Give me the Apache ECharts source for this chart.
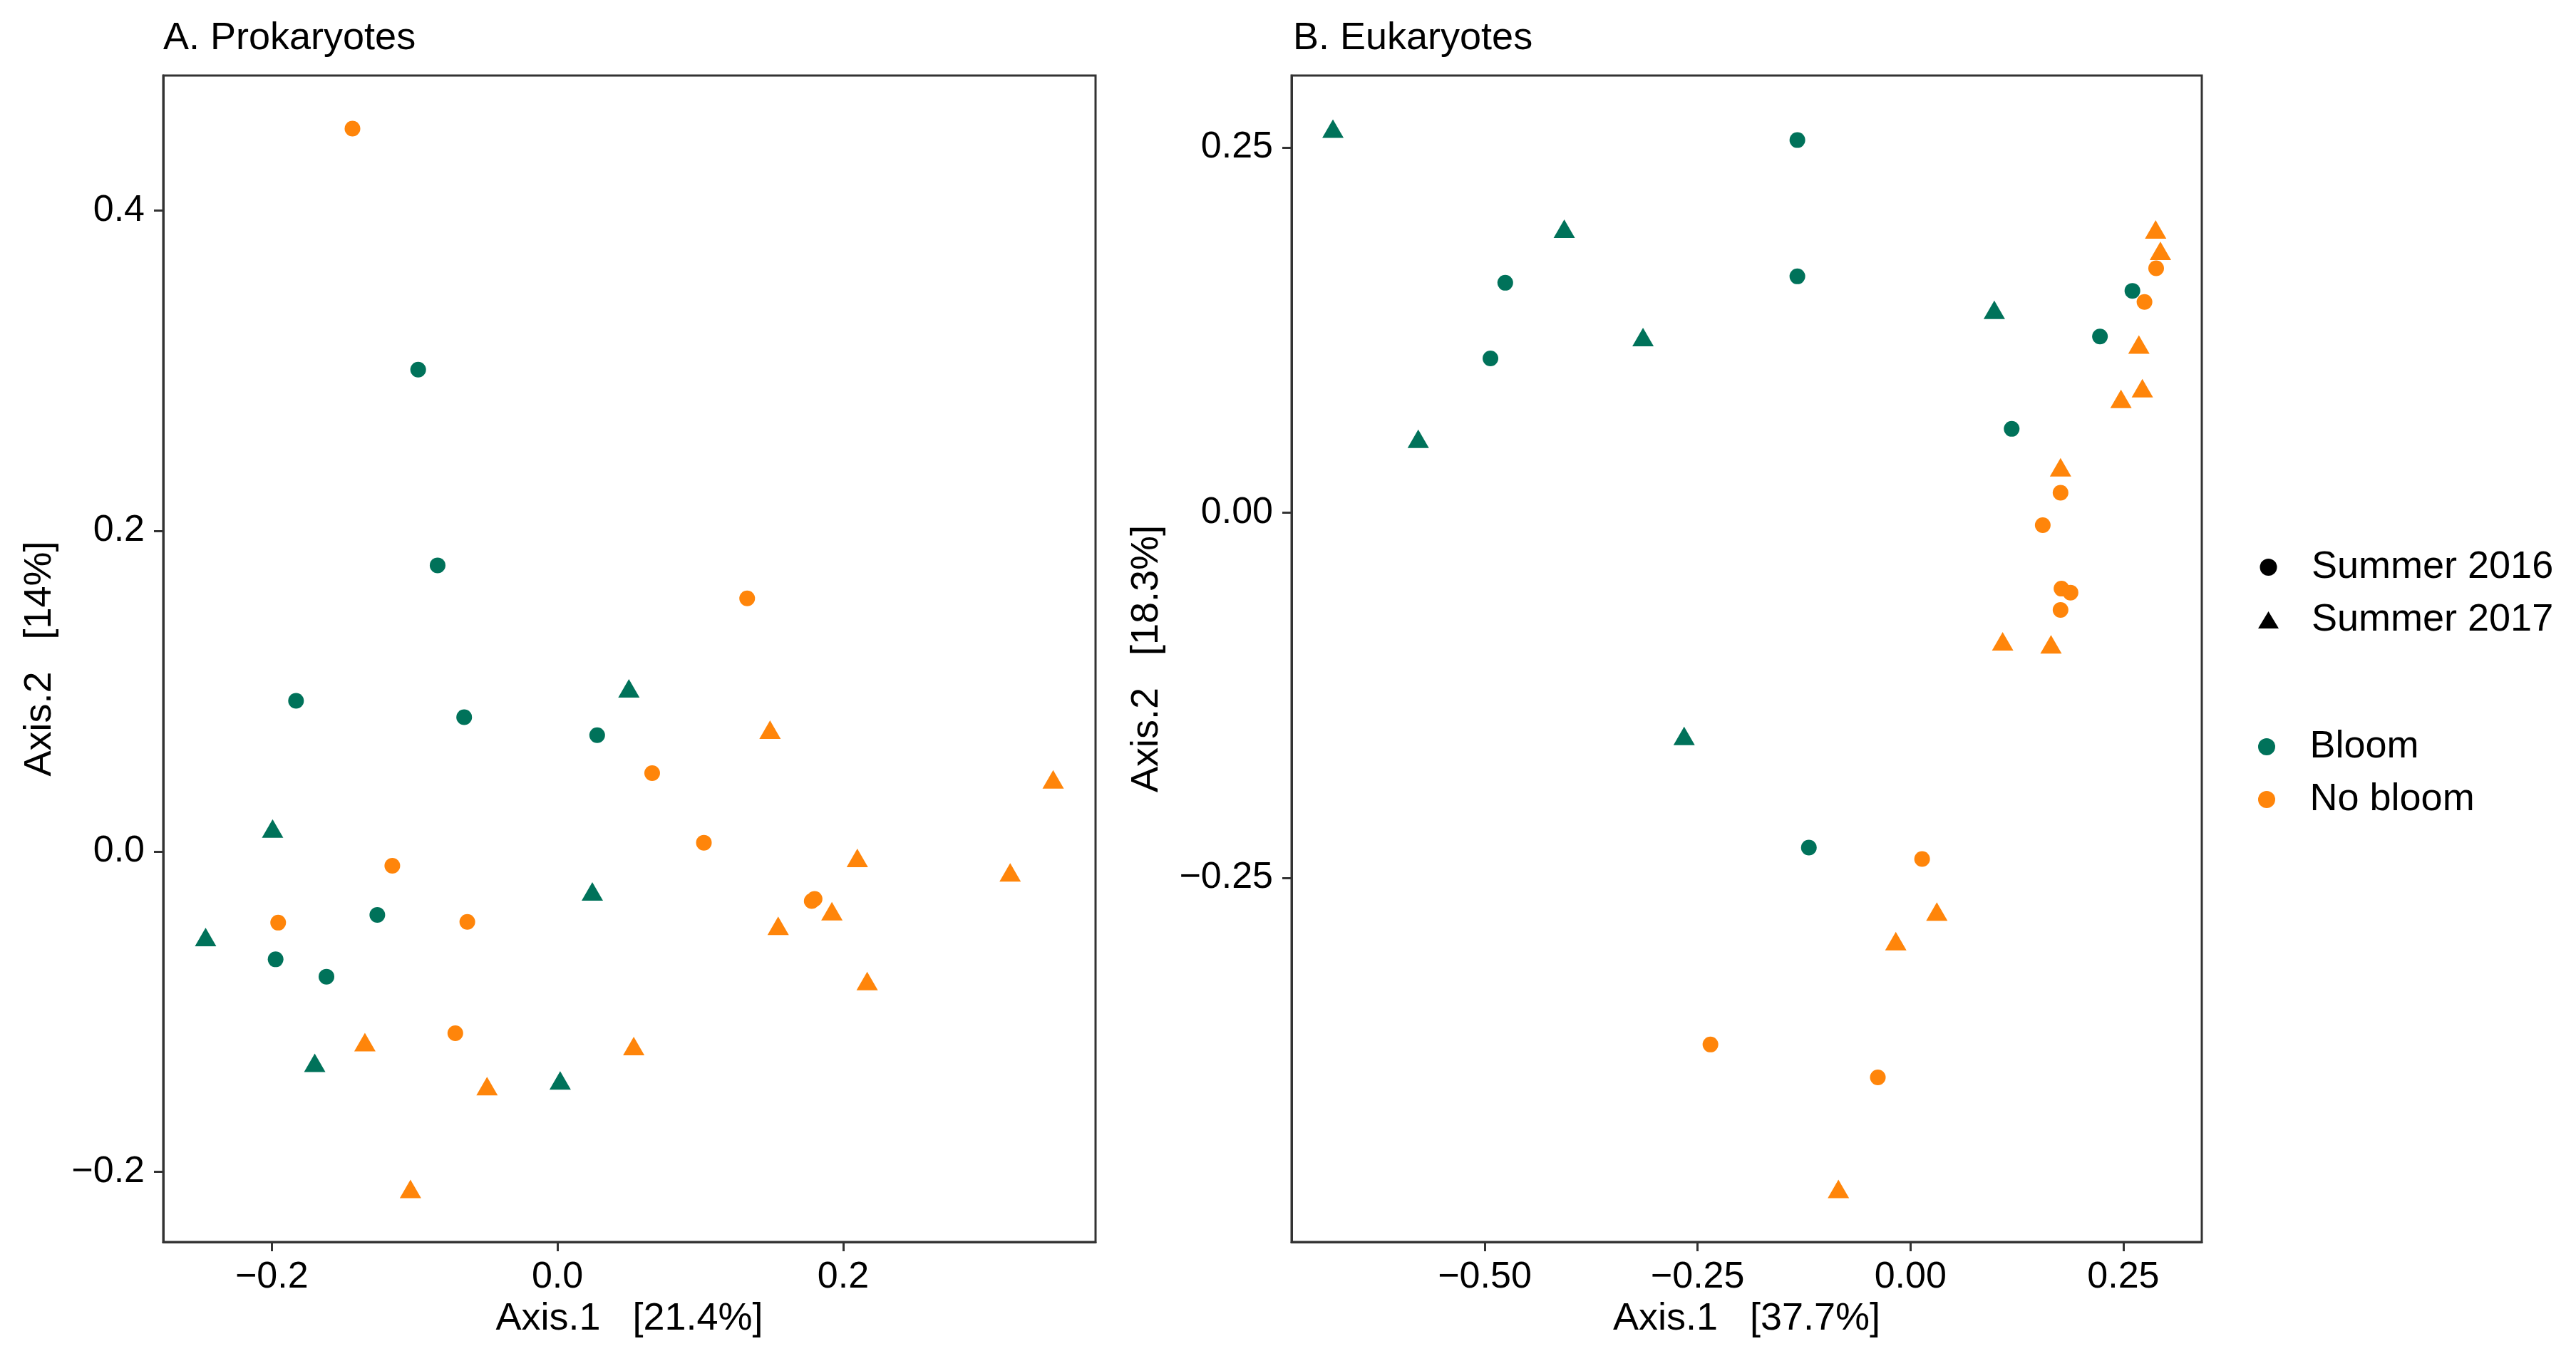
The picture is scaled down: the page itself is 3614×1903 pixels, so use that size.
<!DOCTYPE html>
<html>
<head>
<meta charset="utf-8">
<script src="https://cdn.jsdelivr.net/npm/echarts@6/dist/echarts.min.js"></script>
<style>
  html, body { margin: 0; padding: 0; background: #fff; }
  #chart { width: 3614px; height: 1903px; }
</style>
</head>
<body>
<div id="chart"></div>
<script>
// A. Prokaryotes  [Axis.1, Axis.2]
const prokBloom2016 = [
  [-0.0975, 0.3006], [-0.0839, 0.1785], [-0.183, 0.094], [-0.0653, 0.0837],
  [0.0278, 0.0725], [-0.1261, -0.0397], [-0.1973, -0.0674], [-0.1617, -0.0782]
];
const prokBloom2017 = [
  [0.050, 0.1018], [-0.1994, 0.0143], [-0.2463, -0.0535], [0.0244, -0.025],
  [-0.1699, -0.132], [0.0019, -0.143]
];
const prokNoBloom2016 = [
  [-0.1435, 0.4511], [0.1328, 0.1579], [0.0663, 0.0488], [0.1025, 0.0054],
  [-0.1156, -0.009], [-0.1955, -0.0445], [-0.0631, -0.044], [0.178, -0.031],
  [0.180, -0.0297], [-0.0715, -0.1135]
];
const prokNoBloom2017 = [
  [0.1488, 0.0759], [0.347, 0.0449], [0.2099, -0.0041], [0.3169, -0.0131],
  [0.1921, -0.0373], [0.1545, -0.0464], [0.2168, -0.0809], [-0.1348, -0.119],
  [0.0534, -0.1215], [-0.0493, -0.1465], [-0.1029, -0.2107]
];

// B. Eukaryotes
const eukBloom2016 = [
  [-0.1328, 0.2551], [-0.1328, 0.1618], [-0.4759, 0.1574], [-0.4933, 0.1056],
  [0.2607, 0.1519], [0.2226, 0.1206], [0.1189, 0.0574], [-0.1193, -0.2293]
];
const eukBloom2017 = [
  [-0.6783, 0.263], [-0.4066, 0.1944], [-0.3141, 0.1203], [-0.5781, 0.0506],
  [0.0985, 0.1389], [-0.2658, -0.1528]
];
const eukNoBloom2016 = [
  [0.2886, 0.1673], [0.2749, 0.1443], [0.1763, 0.0137], [0.1554, -0.0085],
  [0.1774, -0.052], [0.188, -0.0547], [0.1763, -0.0666], [0.0137, -0.2371],
  [-0.2349, -0.3641], [-0.0383, -0.3866]
];
const eukNoBloom2017 = [
  [0.288, 0.1939], [0.2936, 0.1793], [0.2683, 0.1151], [0.2724, 0.0853],
  [0.2473, 0.0779], [0.1763, 0.0311], [0.1083, -0.088], [0.1651, -0.0901],
  [0.031, -0.2731], [-0.0172, -0.2933], [-0.0846, -0.463]
];

const prokXTicks = [-0.2, 0.0, 0.2];
const prokYTicks = [-0.2, 0.0, 0.2, 0.4];
const eukXTicks = [-0.5, -0.25, 0.0, 0.25];
const eukYTicks = [-0.25, 0.0, 0.25];

const panelTitles = ['A. Prokaryotes', 'B. Eukaryotes'];
const xNames = ['Axis.1   [21.4%]', 'Axis.1   [37.7%]'];
const yNames = ['Axis.2   [14%]', 'Axis.2   [18.3%]'];
const shapeLegend = ['Summer 2016', 'Summer 2017'];
const colourLegend = ['Bloom', 'No bloom'];

const GREEN = '#00725A';
const ORANGE = '#FF850A';
const FONT = 'Liberation Sans, Arial, sans-serif';
const AXIS_COL = '#333';

// ggplot style 5% expansion of the data range
const expand = (sets, k) => {
  const v = [].concat(...sets).map(p => p[k]);
  const lo = Math.min(...v), hi = Math.max(...v), pad = (hi - lo) * 0.05;
  return [lo - pad, hi + pad];
};

const fmt = (digits) => (v) => (v < 0 ? '\u2212' : '') + Math.abs(v).toFixed(digits);

const prokSets = [prokBloom2016, prokBloom2017, prokNoBloom2016, prokNoBloom2017];
const eukSets = [eukBloom2016, eukBloom2017, eukNoBloom2016, eukNoBloom2017];

const makeAxis = (idx, range, ticks, digits, name, nameGap, isX) => ({
  type: 'value',
  gridIndex: idx,
  min: range[0],
  max: range[1],
  name: name,
  nameLocation: 'middle',
  nameGap: nameGap,
  nameTextStyle: { fontFamily: FONT, fontSize: 54, color: '#000' },
  axisLine: { show: true, onZero: false, lineStyle: { color: AXIS_COL, width: 3 } },
  axisTick: { show: true, inside: false, length: 13, lineStyle: { color: AXIS_COL, width: 3 }, customValues: ticks },
  axisLabel: {
    show: true, fontFamily: FONT, fontSize: 52, color: '#000',
    margin: isX ? 24 : 26, customValues: ticks, formatter: fmt(digits)
  },
  splitLine: { show: false }
});

const scatter = (name, data, idx, symbol, color) => ({
  name: name,
  type: 'scatter',
  xAxisIndex: idx,
  yAxisIndex: idx,
  data: data,
  symbol: symbol,
  symbolSize: symbol === 'triangle' ? [30, 26] : 22,
  itemStyle: { color: color, opacity: 1 },
  emphasis: { disabled: true },
  z: 3
});

const chart = echarts.init(document.getElementById('chart'), null, { renderer: 'canvas' });

const option = {
  backgroundColor: '#fff',
  animation: false,
  title: [
    { text: panelTitles[0], left: 224, top: 22, textStyle: { fontFamily: FONT, fontSize: 54, fontWeight: 'normal', color: '#000' } },
    { text: panelTitles[1], left: 1809, top: 22, textStyle: { fontFamily: FONT, fontSize: 54, fontWeight: 'normal', color: '#000' } }
  ],
  grid: [
    { left: 229, top: 106, width: 1308, height: 1637, show: true, borderColor: AXIS_COL, borderWidth: 3, backgroundColor: 'transparent' },
    { left: 1812, top: 106, width: 1277, height: 1637, show: true, borderColor: AXIS_COL, borderWidth: 3, backgroundColor: 'transparent' }
  ],
  xAxis: [
    makeAxis(0, expand(prokSets, 0), prokXTicks, 1, xNames[0], 80, true),
    makeAxis(1, expand(eukSets, 0), eukXTicks, 2, xNames[1], 80, true)
  ],
  yAxis: [
    makeAxis(0, expand(prokSets, 1), prokYTicks, 1, yNames[0], 146, false),
    makeAxis(1, expand(eukSets, 1), eukYTicks, 2, yNames[1], 176, false)
  ],
  legend: [
    {
      data: [{ name: shapeLegend[0], icon: 'circle' }, { name: shapeLegend[1], icon: 'triangle' }],
      orient: 'vertical', left: 3163, top: 764, itemWidth: 29, itemHeight: 24, itemGap: 20,
      selectedMode: false,
      textStyle: { fontFamily: FONT, fontSize: 54, color: '#000', padding: [0, 0, 0, 41] }
    },
    {
      data: [{ name: colourLegend[0], icon: 'circle' }, { name: colourLegend[1], icon: 'circle' }],
      orient: 'vertical', left: 3163, top: 1016, itemWidth: 29, itemHeight: 24, itemGap: 20,
      selectedMode: false,
      textStyle: { fontFamily: FONT, fontSize: 54, color: '#000', padding: [0, 0, 0, 41] }
    }
  ],
  series: [
    scatter('Bloom', prokBloom2016, 0, 'circle', GREEN),
    scatter('Bloom', prokBloom2017, 0, 'triangle', GREEN),
    scatter('No bloom', prokNoBloom2016, 0, 'circle', ORANGE),
    scatter('No bloom', prokNoBloom2017, 0, 'triangle', ORANGE),
    scatter('Bloom', eukBloom2016, 1, 'circle', GREEN),
    scatter('Bloom', eukBloom2017, 1, 'triangle', GREEN),
    scatter('No bloom', eukNoBloom2016, 1, 'circle', ORANGE),
    scatter('No bloom', eukNoBloom2017, 1, 'triangle', ORANGE),
    // legend-only entries for the shape key
    scatter('Summer 2016', [], 0, 'circle', '#000'),
    scatter('Summer 2017', [], 0, 'triangle', '#000')
  ]
};

chart.setOption(option);
</script>
</body>
</html>
